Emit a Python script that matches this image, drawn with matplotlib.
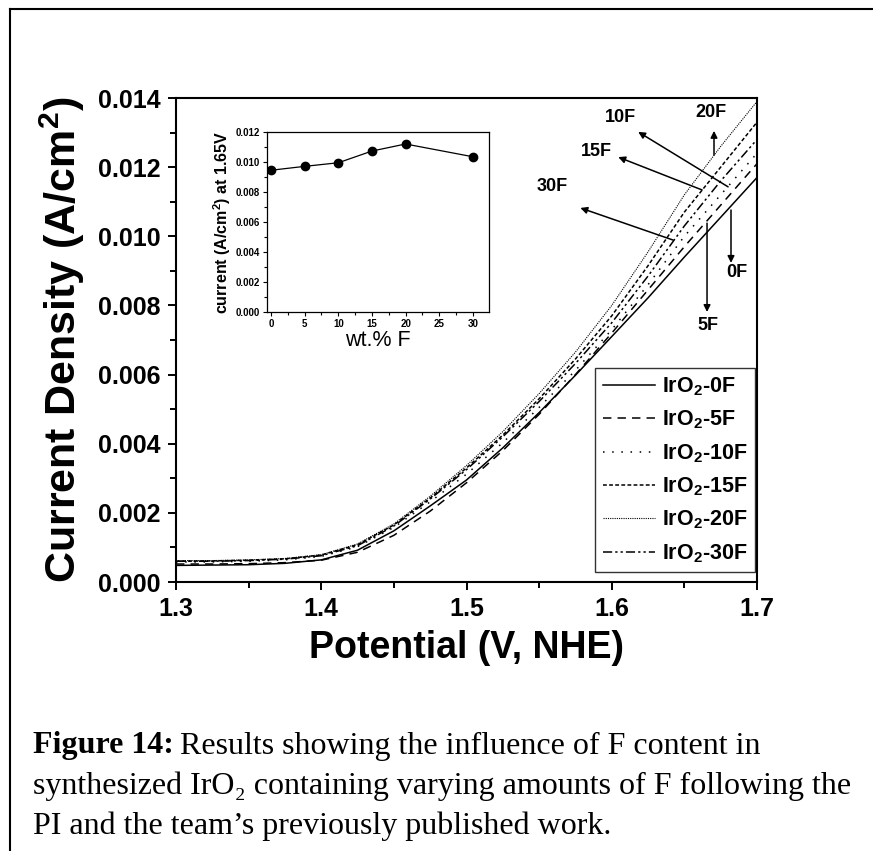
import matplotlib
matplotlib.use("Agg")
import matplotlib.pyplot as plt
from matplotlib.ticker import MultipleLocator, FormatStrFormatter
from matplotlib.lines import Line2D

plt.rcParams['font.family'] = ['Liberation Sans', 'DejaVu Sans']
plt.rcParams['mathtext.fontset'] = 'custom'
plt.rcParams['mathtext.rm'] = 'Liberation Sans'
plt.rcParams['mathtext.bf'] = 'Liberation Sans:bold'

# polarisation curves, current density (A/cm2) vs potential (V, NHE)
potential = [1.300, 1.325, 1.350, 1.375, 1.400, 1.425, 1.450, 1.475, 1.500,
             1.525, 1.550, 1.575, 1.600, 1.625, 1.650, 1.675, 1.700]
j_0F = [0.00048, 0.00049, 0.00050, 0.00054, 0.00064, 0.00092, 0.00148, 0.00220, 0.00295,
        0.00388, 0.00490, 0.00598, 0.00710, 0.00822, 0.00940, 0.01055, 0.01170]
j_5F = [0.00052, 0.00052, 0.00053, 0.00056, 0.00063, 0.00086, 0.00135, 0.00205, 0.00287,
        0.00380, 0.00485, 0.00600, 0.00720, 0.00845, 0.00970, 0.01090, 0.01210]
j_10F = [0.00058, 0.00058, 0.00060, 0.00064, 0.00074, 0.00102, 0.00158, 0.00232, 0.00312,
         0.00403, 0.00505, 0.00612, 0.00730, 0.00860, 0.01000, 0.01120, 0.01240]
j_15F = [0.00060, 0.00061, 0.00063, 0.00067, 0.00078, 0.00108, 0.00165, 0.00243, 0.00330,
         0.00425, 0.00530, 0.00645, 0.00770, 0.00915, 0.01070, 0.01200, 0.01330]
j_20F = [0.00062, 0.00062, 0.00064, 0.00068, 0.00079, 0.00110, 0.00168, 0.00248, 0.00337,
         0.00435, 0.00545, 0.00665, 0.00800, 0.00955, 0.01120, 0.01260, 0.01390]
j_30F = [0.00060, 0.00060, 0.00062, 0.00066, 0.00076, 0.00105, 0.00162, 0.00240, 0.00325,
         0.00420, 0.00522, 0.00632, 0.00750, 0.00885, 0.01030, 0.01160, 0.01280]

# inset: current at 1.65 V vs F content
wt_F = [0, 5, 10, 15, 20, 30]
j_165 = [0.00945, 0.00971, 0.00995, 0.01073, 0.01120, 0.01035]

labels = ['0F', '5F', '10F', '15F', '20F', '30F']
curves = [j_0F, j_5F, j_10F, j_15F, j_20F, j_30F]
styles = [dict(ls='-', lw=1.1),
          dict(ls=(0, (5.5, 4)), lw=1.1),
          dict(ls=(0, (1, 5)), lw=1.1),
          dict(ls=(0, (2.5, 1.5)), lw=1.1),
          dict(ls=(0, (1, 1)), lw=0.8),
          dict(ls=(0, (6, 2, 1.5, 2, 1.5, 2)), lw=1.1)]

fig = plt.figure(figsize=(8.73, 8.51), dpi=100)

# page frame
fig.add_artist(Line2D([9.5 / 873, 9.5 / 873], [0, 1 - 8.5 / 851], color='k', lw=1.5,
                      transform=fig.transFigure))
fig.add_artist(Line2D([9.5 / 873, 1], [1 - 8.5 / 851, 1 - 8.5 / 851], color='k', lw=1.5,
                      transform=fig.transFigure))

ax = fig.add_axes([176 / 873, 1 - 582 / 851, 581 / 873, 484 / 851])
for lab, y, st in zip(labels, curves, styles):
    ax.plot(potential, y, color='k', label='IrO$_\\mathbf{2}$-' + lab, **st)

ax.set_xlim(1.3, 1.7)
ax.set_ylim(0, 0.014)
ax.xaxis.set_major_locator(MultipleLocator(0.1))
ax.xaxis.set_minor_locator(MultipleLocator(0.05))
ax.yaxis.set_major_locator(MultipleLocator(0.002))
ax.yaxis.set_minor_locator(MultipleLocator(0.001))
ax.xaxis.set_major_formatter(FormatStrFormatter('%.1f'))
ax.yaxis.set_major_formatter(FormatStrFormatter('%.3f'))
ax.tick_params(which='both', direction='out', top=False, right=False, width=1.4)
ax.tick_params(which='major', length=6, labelsize=18, pad=5)
ax.tick_params(which='minor', length=4)
for t in ax.get_xticklabels() + ax.get_yticklabels():
    t.set_fontweight('bold')
for sp in ax.spines.values():
    sp.set_linewidth(1.5)

ax.set_xlabel('Potential (V, NHE)', fontsize=27, fontweight='bold', labelpad=6)
ax.set_ylabel('Current Density (A/cm$^\\mathbf{2}$)', fontsize=31, fontweight='bold', labelpad=8)

leg = ax.legend(loc='lower right', bbox_to_anchor=(0.997, 0.02),
                prop=dict(weight='bold', size=15.5), frameon=True, fancybox=False,
                edgecolor='k', handlelength=2.4, labelspacing=0.5, borderpad=0.35,
                handletextpad=0.35, borderaxespad=0)
leg.get_frame().set_linewidth(1.0)

# arrows pointing from curves to their labels
arrow_kw = dict(arrowstyle='-|>', color='k', lw=1.1, mutation_scale=10, shrinkA=0, shrinkB=0)
notes = [('10F', (1.6058, 0.01345), (1.6182, 0.01302), (1.6801, 0.01143)),
         ('15F', (1.5893, 0.01244), (1.6045, 0.01229), (1.6622, 0.01134)),
         ('30F', (1.5591, 0.01143), (1.5784, 0.01082), (1.6423, 0.00989)),
         ('20F', (1.6684, 0.01357), (1.6704, 0.01305), (1.6704, 0.01235)),
         ('0F', (1.6863, 0.00894), (1.6821, 0.00923), (1.6821, 0.01076)),
         ('5F', (1.6663, 0.00743), (1.6656, 0.00781), (1.6656, 0.01038))]
for txt, tpos, head, tail in notes:
    ax.annotate('', xy=head, xytext=tail, arrowprops=arrow_kw)
    ax.text(tpos[0], tpos[1], txt, fontsize=13, fontweight='bold', ha='center', va='center')

# inset
ins = fig.add_axes([267 / 873, 1 - 312 / 851, 222 / 873, 180 / 851])
ins.plot(wt_F, j_165, color='k', lw=0.9, marker='o', markersize=6)
ins.set_xlim(-0.6, 32.4)
ins.set_ylim(0, 0.012)
ins.xaxis.set_major_locator(MultipleLocator(5))
ins.xaxis.set_minor_locator(MultipleLocator(2.5))
ins.yaxis.set_major_locator(MultipleLocator(0.002))
ins.yaxis.set_minor_locator(MultipleLocator(0.001))
ins.yaxis.set_major_formatter(FormatStrFormatter('%.3f'))
ins.tick_params(which='both', direction='out', top=False, right=False, width=0.8)
ins.tick_params(which='major', length=3, labelsize=7, pad=2)
ins.tick_params(which='minor', length=2)
for t in ins.get_xticklabels() + ins.get_yticklabels():
    t.set_fontweight('bold')
for sp in ins.spines.values():
    sp.set_linewidth(0.9)
ins.set_xlabel('wt.% F', fontsize=15.5, labelpad=1)
ins.set_ylabel('current (A/cm$^\\mathbf{2}$) at 1.65V', fontsize=11.5, fontweight='bold', labelpad=2)

# caption
serif = ['Liberation Serif', 'DejaVu Serif']
renderer = fig.canvas.get_renderer()
head = fig.text(33 / 873, 1 - 746 / 851, 'Figure 14:', family=serif, fontsize=23,
                fontweight='bold', va='center')
bb = head.get_window_extent(renderer)
fig.text((bb.x1 + 6) / 873, 1 - 746 / 851, 'Results showing the influence of F content in',
         family=serif, fontsize=23, va='center')
fig.text(33 / 873, 1 - 786 / 851,
         'synthesized IrO\u2082 containing varying amounts of F following the',
         family=serif, fontsize=23, va='center')
fig.text(33 / 873, 1 - 826 / 851, 'PI and the team\u2019s previously published work.',
         family=serif, fontsize=23, va='center')

fig.savefig('out.png', dpi=100)
